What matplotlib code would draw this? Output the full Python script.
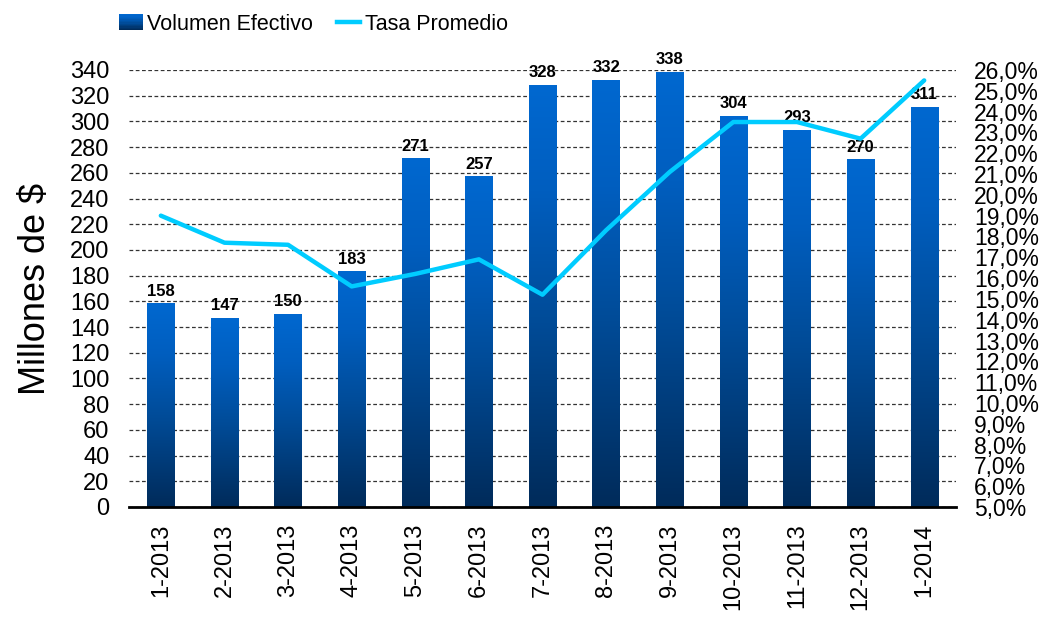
import matplotlib
matplotlib.use("Agg")
import matplotlib.pyplot as plt
import numpy as np
from matplotlib.colors import LinearSegmentedColormap
from matplotlib.patches import Rectangle, Patch
from matplotlib.lines import Line2D
from matplotlib.legend_handler import HandlerBase
from matplotlib.ticker import FuncFormatter, MultipleLocator

plt.rcParams['font.family'] = ['Liberation Sans', 'DejaVu Sans']

categories = ["1-2013", "2-2013", "3-2013", "4-2013", "5-2013", "6-2013", "7-2013",
              "8-2013", "9-2013", "10-2013", "11-2013", "12-2013", "1-2014"]
volumen = [158, 147, 150, 183, 271, 257, 328, 332, 338, 304, 293, 270, 311]
tasa = [19.0, 17.7, 17.6, 15.6, 16.2, 16.9, 15.2, 18.3, 21.1, 23.5, 23.5, 22.7, 25.5]

cmap = LinearSegmentedColormap.from_list(
    "barg", [(0.0, "#002B5A"), (0.45, "#004C99"), (0.75, "#005EBF"), (1.0, "#0068D0")])

fig = plt.figure(figsize=(10.44, 6.2), dpi=100)
ax = fig.add_axes([0.1236, 0.1823, 0.7921, 0.7048])
ax2 = ax.twinx()

x = np.arange(len(categories))
width = 0.43

grad = np.linspace(0, 1, 256).reshape(-1, 1)
for xi, v in zip(x, volumen):
    ax.imshow(grad, cmap=cmap, origin="lower", aspect="auto",
              extent=(xi - width / 2, xi + width / 2, 0, v), zorder=2,
              interpolation="bilinear")
    ax.text(xi, v + 4, str(v), ha="center", va="bottom", fontsize=12,
            fontweight="bold", color="black", zorder=5)
ax.set_xlim(-0.5, len(categories) - 0.5)
ax.set_ylim(0, 340)

ax.yaxis.set_major_locator(MultipleLocator(20))
ax.grid(axis="y", linestyle=(0, (3, 2)), color="#333333", linewidth=0.9, zorder=0)
ax.set_axisbelow(True)
for s in ["left", "right", "top"]:
    ax.spines[s].set_visible(False)
ax.spines["bottom"].set_linewidth(2)
ax.spines["bottom"].set_color("black")
ax.set_xticks(x)
ax.set_xticklabels(categories, rotation=90, fontsize=17)
ax.tick_params(axis="x", length=0, pad=12)
ax.tick_params(axis="y", length=0, labelsize=17, pad=14)
ax.set_ylabel("Millones de $", fontsize=26, labelpad=12)

ax2.plot(x, tasa, color="#00CCFF", linewidth=3.2, zorder=6, solid_capstyle="round")
ax2.set_ylim(5, 26)
ax2.yaxis.set_major_locator(MultipleLocator(1))
ax2.yaxis.set_major_formatter(FuncFormatter(lambda v, p: f"{v:.1f}%".replace(".", ",")))
ax2.tick_params(axis="y", length=0, labelsize=16.5, pad=13)
for s in ["left", "right", "top", "bottom"]:
    ax2.spines[s].set_visible(False)


class GradHandler(HandlerBase):
    def create_artists(self, legend, orig_handle, xdescent, ydescent, width, height,
                       fontsize, trans):
        arts = []
        n = 12
        for i in range(n):
            r = Rectangle((-xdescent, -ydescent + height * i / n), width, height / n + 0.3,
                          facecolor=cmap(i / (n - 1)), edgecolor="none", transform=trans)
            arts.append(r)
        return arts


h1 = Patch(facecolor="#004C99")
h2 = Line2D([], [], color="#00CCFF", linewidth=3.2)
fig.legend([h1, h2], ["Volumen Efectivo", "Tasa Promedio"],
           handler_map={Patch: GradHandler()},
           loc="center left", bbox_to_anchor=(0.114, 0.961), ncol=2, frameon=False,
           fontsize=15.5, handlelength=1.1, handletextpad=0.2, columnspacing=1.1,
           handleheight=0.8, borderpad=0, borderaxespad=0)

fig.savefig("out.png", dpi=100)
